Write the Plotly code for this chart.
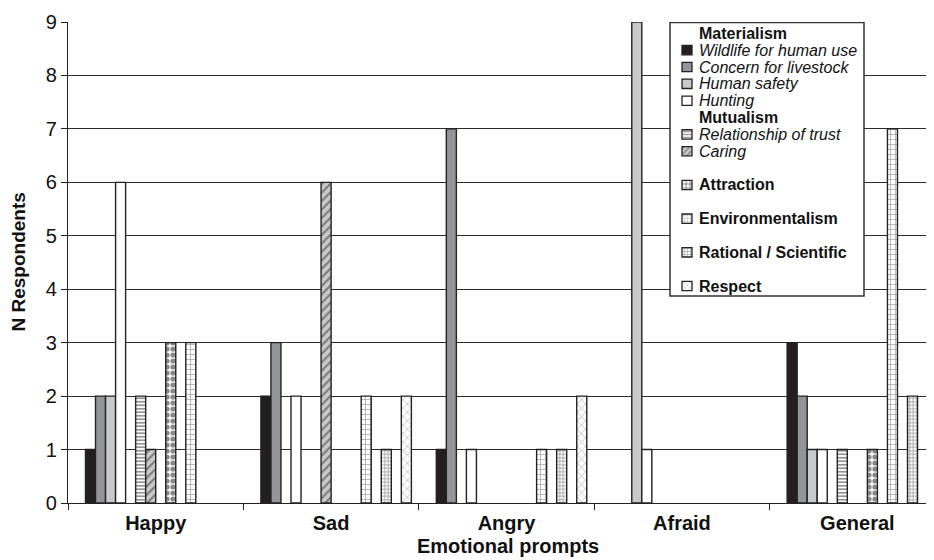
import plotly.graph_objects as go

categories = ["Happy", "Sad", "Angry", "Afraid", "General"]

# 16 series slots (Excel-style: headers / spacers are empty series)
series_names = [
    "<b>Materialism</b>",
    "<i>Wildlife for human use</i>",
    "<i>Concern for livestock</i>",
    "<i>Human safety</i>",
    "<i>Hunting</i>",
    "<b>Mutualism</b>",
    "<i>Relationship of trust</i>",
    "<i>Caring</i>",
    "",
    "<b>Attraction</b>",
    "",
    "<b>Environmentalism</b>",
    "",
    "<b>Rational / Scientific</b>",
    "",
    "<b>Respect</b>",
]

wildlife = [1, 2, 1, 0, 3]
livestock = [2, 3, 7, 0, 2]
safety = [2, 0, 0, 9, 1]
hunting = [6, 2, 1, 1, 1]
trust = [2, 0, 0, 0, 1]
caring = [1, 6, 0, 0, 0]
attraction = [3, 0, 0, 0, 1]
environmentalism = [3, 2, 1, 0, 7]
rational = [0, 1, 1, 0, 2]
respect = [0, 2, 2, 0, 2]

series_values = [
    None, wildlife, livestock, safety, hunting, None, trust, caring,
    None, attraction, None, environmentalism, None, rational, None, respect,
]

y_ticks = list(range(0, 10))

W = "#ffffff"
styles = [
    None,
    dict(color="#231f20", shape="", fg="#231f20", size=8, sol=0.3),
    dict(color="#939598", shape="", fg="#939598", size=8, sol=0.3),
    dict(color="#c8c9cb", shape="", fg="#c8c9cb", size=8, sol=0.3),
    dict(color=W, shape="", fg=W, size=8, sol=0.3),
    None,
    dict(color=W, shape="-", fg="#2a2a2a", size=3.5, sol=0.5),
    dict(color="#c8c9cb", shape="/", fg="#2a2a2a", size=6, sol=0.35),
    None,
    dict(color=W, shape=".", fg="#111111", size=6, sol=0.6),
    None,
    dict(color=W, shape="+", fg="#333333", size=5, sol=0.25),
    None,
    dict(color=W, shape="+", fg="#2a2a2a", size=3.5, sol=0.4),
    None,
    dict(color=W, shape="x", fg="#444444", size=6, sol=0.18),
]

# ---- figure geometry (page body adds an 8px offset) ----
FIG_W, FIG_H = 926, 552
PL, PR, PT, PB = 60, 926, 14, 495
X_RANGE = [-0.5, 4.437]
Y_RANGE = [0, 9]


def px_to_x(px):
    return X_RANGE[0] + (px - PL) / (PR - PL) * (X_RANGE[1] - X_RANGE[0])


def py_to_y(py):
    return Y_RANGE[0] + (PB - py) / (PB - PT) * (Y_RANGE[1] - Y_RANGE[0])


fig = go.Figure()
for name, vals, st in zip(series_names, series_values, styles):
    if vals is None:
        fig.add_trace(go.Bar(
            x=categories, y=[None] * len(categories), name=name,
            marker=dict(color="rgba(0,0,0,0)", line=dict(width=0)),
            hoverinfo="skip", showlegend=False,
        ))
    else:
        m = dict(color=st["color"], line=dict(color="#222222", width=1.4))
        if st["shape"]:
            m["pattern"] = dict(shape=st["shape"], fgcolor=st["fg"],
                                size=st["size"], solidity=st["sol"])
        fig.add_trace(go.Bar(
            x=categories, y=[v if v else None for v in vals],
            name=name, marker=m, showlegend=False,
        ))

# ---- custom legend (box, keys, texts) ----
LEG_L, LEG_R, LEG_T, LEG_B = 662, 856, 14.5, 288
ROW0, ROWH = 25.3, 16.85
y2_range = [(PB - ROW0) / ROWH, (PT - ROW0) / ROWH]
x2_range = [PL - LEG_L, PR - LEG_L]

fig.add_shape(
    type="rect", xref="x", yref="y", layer="between",
    x0=px_to_x(LEG_L), x1=px_to_x(LEG_R), y0=py_to_y(LEG_B), y1=py_to_y(LEG_T),
    fillcolor="white", line=dict(color="#333333", width=1.5),
)

key_rows, key_col, key_shape, key_fg, key_size, key_sol = [], [], [], [], [], []
for i, st in enumerate(styles):
    if st is None:
        continue
    key_rows.append(i)
    key_col.append(st["color"])
    key_shape.append(st["shape"])
    key_fg.append(st["fg"])
    key_size.append(max(3, st["size"] - 2))
    key_sol.append(st["sol"])

fig.add_trace(go.Bar(
    y=key_rows, x=[10] * len(key_rows), base=12, orientation="h",
    width=0.55, xaxis="x2", yaxis="y2", showlegend=False, hoverinfo="skip",
    marker=dict(
        color=key_col,
        line=dict(color="#222222", width=1.3),
        pattern=dict(shape=key_shape, fgcolor=key_fg, size=key_size,
                     solidity=key_sol),
    ),
))

for i, name in enumerate(series_names):
    if not name:
        continue
    fig.add_annotation(
        xref="x2", yref="y2", x=27, y=i, text=name, showarrow=False,
        xanchor="left", yanchor="middle",
        font=dict(size=16, color="#111111"),
    )

# axis titles as annotations for exact placement
fig.add_annotation(
    xref="paper", yref="paper", x=(499.5 - PL) / (PR - PL), y=(PB - 538) / (PB - PT),
    text="<b>Emotional prompts</b>", showarrow=False,
    xanchor="center", yanchor="middle", font=dict(size=20, color="#111111"),
)
fig.add_annotation(
    xref="paper", yref="paper", x=(10 - PL) / (PR - PL), y=0.5,
    text="<b>N Respondents</b>", showarrow=False, textangle=-90,
    xanchor="center", yanchor="middle", font=dict(size=19, color="#111111"),
)

FONT = "Liberation Sans, Arial, sans-serif"
fig.update_layout(
    width=FIG_W, height=FIG_H,
    barmode="group", bargap=0.085, bargroupgap=0,
    paper_bgcolor="white", plot_bgcolor="white",
    margin=dict(l=PL, r=FIG_W - PR, t=PT, b=FIG_H - PB),
    font=dict(family=FONT, color="#111111"),
    showlegend=False,
    xaxis=dict(
        range=X_RANGE, automargin=False,
        showline=True, linecolor="#222222", linewidth=1.3,
        ticks="outside", tickson="boundaries", ticklen=6, tickcolor="#222222",
        tickwidth=1.2, ticklabelstandoff=2,
        tickfont=dict(size=20, color="#111111"),
        tickprefix="<b>", ticksuffix="</b>",
        showgrid=False,
    ),
    yaxis=dict(
        range=Y_RANGE, tickvals=y_ticks, automargin=False,
        showline=True, linecolor="#222222", linewidth=1.3,
        ticks="outside", ticklen=6, tickcolor="#222222", tickwidth=1.2,
        showgrid=True, gridcolor="#2a2a2a", gridwidth=1.3,
        zeroline=False,
        tickfont=dict(size=20, color="#111111"),
        tickprefix="<b>", ticksuffix="</b>",
    ),
    xaxis2=dict(overlaying="x", range=x2_range, visible=False, type="linear",
                fixedrange=True),
    yaxis2=dict(overlaying="y", range=y2_range, visible=False, type="linear",
                fixedrange=True),
)

fig.write_html("out.html")
